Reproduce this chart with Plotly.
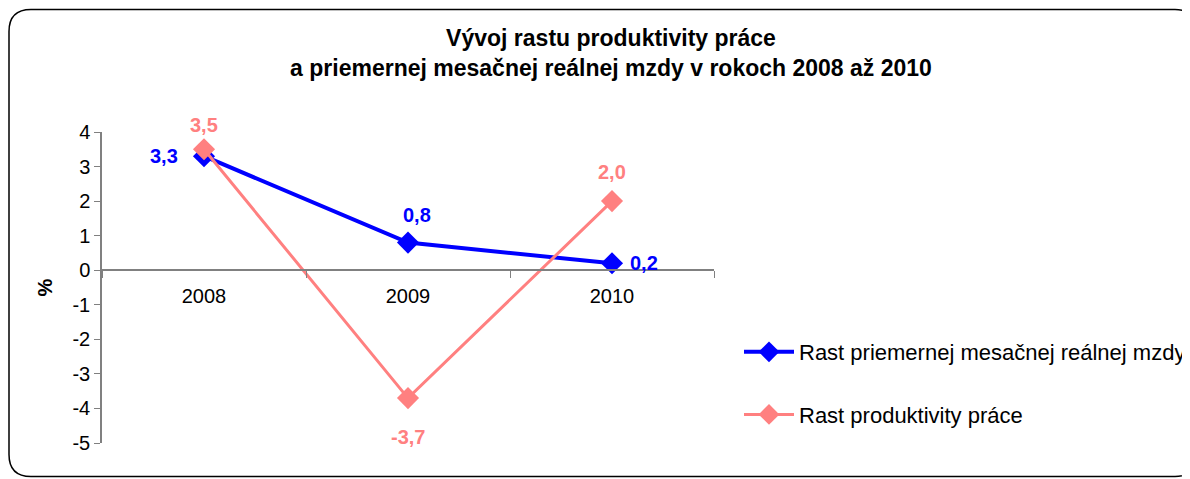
import plotly.graph_objects as go

years = ["2008", "2009", "2010"]
mzdy = [3.3, 0.8, 0.2]
produktivita = [3.5, -3.7, 2.0]
mzdy_labels = ["3,3", "0,8", "0,2"]
prod_labels = ["3,5", "-3,7", "2,0"]
y_ticks = [-5, -4, -3, -2, -1, 0, 1, 2, 3, 4]
y_tick_labels = ["-5", "-4", "-3", "-2", "-1", "0", "1", "2", "3", "4"]
name_mzdy = "Rast priemernej mesačnej reálnej mzdy"
name_prod = "Rast produktivity práce"
title_text = "<b>Vývoj rastu produktivity práce<br>a priemernej mesačnej reálnej mzdy v rokoch 2008 až 2010</b>"

BLUE = "#0000FF"
PINK = "#FF8080"
FONT = "Liberation Sans, Arial, sans-serif"

OFF = 8  # default page body margin
W, H = 1230, 479  # wider than the window so the legend does not push the margins
# plot area in page pixels
L, R, T, B = 102 - OFF, 714 - OFF, 132 - OFF, 443 - OFF


def px(x):
    return (x - OFF - L) / (R - L)


def py(y):
    return (B - (y - OFF)) / (B - T)


fig = go.Figure()
fig.add_trace(go.Scatter(
    x=years, y=mzdy, name=name_mzdy, mode="lines+markers",
    line=dict(color=BLUE, width=4),
    marker=dict(symbol="diamond", size=17, color=BLUE),
    legendgroup="a", cliponaxis=False,
))
fig.add_trace(go.Scatter(
    x=years, y=produktivita, name=name_prod, mode="lines+markers",
    line=dict(color=PINK, width=3),
    marker=dict(symbol="diamond", size=17, color=PINK),
    legendgroup="b", cliponaxis=False,
))

# data labels placed via axis coordinates (category index) with pixel offsets
mzdy_shift = [(-40, 0), (9, 28), (32, 0)]
prod_shift = [(0, 24), (0, -39), (0, 29)]
annotations = []
for ys, labels, shifts, col in [(mzdy, mzdy_labels, mzdy_shift, BLUE),
                                (produktivita, prod_labels, prod_shift, PINK)]:
    for i, (yv, lab, (dx, dy)) in enumerate(zip(ys, labels, shifts)):
        annotations.append(dict(x=i, y=yv, xref="x", yref="y", text=f"<b>{lab}</b>",
                                showarrow=False, xshift=dx, yshift=dy,
                                font=dict(color=col, size=20, family=FONT)))

# rounded border (page pixel coords); right side runs off the page as in the reference
x0, y0, x1, y1, r = px(9), py(9.5), px(1197), py(476.5), 22
rx = r / (R - L)
ry = r / (B - T)
path = (f"M {x0+rx} {y0} L {x1-rx} {y0} Q {x1} {y0} {x1} {y0-ry} "
        f"L {x1} {y1+ry} Q {x1} {y1} {x1-rx} {y1} L {x0+rx} {y1} "
        f"Q {x0} {y1} {x0} {y1+ry} L {x0} {y0-ry} Q {x0} {y0} {x0+rx} {y0} Z")

fig.update_layout(
    width=W, height=H,
    margin=dict(l=L, r=W - R, t=T, b=H - B),
    paper_bgcolor="white", plot_bgcolor="white",
    font=dict(family=FONT, size=20, color="black"),
    title=dict(text=title_text, x=px(611), xref="paper", xanchor="center",
               y=1 - 38 / H, yanchor="middle", font=dict(size=23, family=FONT)),
    showlegend=True,
    legend=dict(x=px(739), y=py(331), xanchor="left", yanchor="top",
                font=dict(size=22, family=FONT), tracegroupgap=31, itemwidth=50,
                traceorder="grouped", bgcolor="rgba(0,0,0,0)"),
    annotations=annotations,
    shapes=[dict(type="path", path=path, xref="paper", yref="paper",
                 line=dict(color="black", width=1.5), layer="below")],
    xaxis=dict(type="category", range=[-0.5, 2.5], anchor="free", position=5 / 9,
               showline=True, linecolor="#808080", linewidth=1.5,
               ticks="outside", tickson="boundaries", ticklen=7, tickcolor="#808080",
               tickfont=dict(size=20), showgrid=False, zeroline=False, ticklabelstandoff=8),
    yaxis=dict(range=[-5, 4], tickmode="array", tickvals=y_ticks, ticktext=y_tick_labels,
               showline=True, linecolor="#808080", linewidth=1.5,
               ticks="outside", ticklen=6, tickcolor="#808080",
               tickfont=dict(size=20), showgrid=False, zeroline=False,
               title=dict(text="<b>%</b>", font=dict(size=20), standoff=14)),
)

# hide page scrollbars caused by the figure running past the window edge
fig.write_html("out.html", post_script=(
    "document.documentElement.style.overflow='hidden';"
    "document.body.style.overflow='hidden';"))
